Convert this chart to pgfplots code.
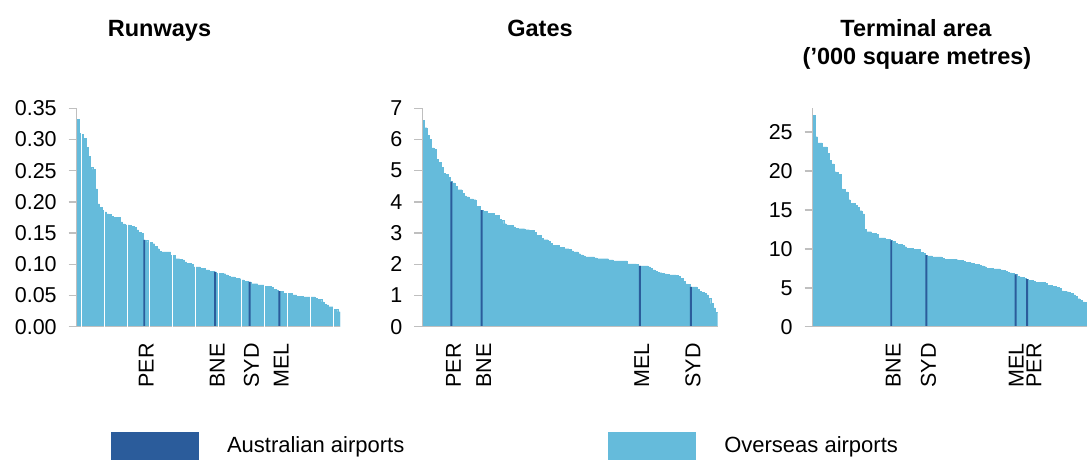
\documentclass[border=0pt]{standalone}
\usepackage{pgfplots}
\pgfplotsset{compat=1.18}
\usepackage{pgfplotstable}
\usepackage{fontspec}
\setmainfont{Liberation Sans}
\definecolor{ausblue}{HTML}{2B5C9B}
\definecolor{osblue}{HTML}{65BBDB}
\definecolor{axisgray}{HTML}{BFBFBF}
\newcommand{\tickfont}{\fontsize{21.5}{25}\selectfont}
\newcommand{\titlefont}{\fontsize{23.5}{28}\selectfont\bfseries}

\pgfplotstableread{
v
0.332
0.310
0.308
0.302
0.287
0.273
0.255
0.252
0.221
0.197
0.191
0.186
0.184
0.181
0.180
0.177
0.175
0.175
0.175
0.168
0.165
0.163
0.163
0.162
0.161
0.159
0.155
0.151
0.150
0.139
0.138
0.135
0.135
0.133
0.129
0.125
0.121
0.120
0.120
0.120
0.120
0.114
0.114
0.109
0.109
0.108
0.107
0.104
0.102
0.102
0.100
0.096
0.096
0.096
0.094
0.094
0.091
0.091
0.089
0.089
0.088
0.086
0.086
0.086
0.085
0.083
0.081
0.080
0.080
0.078
0.078
0.077
0.075
0.073
0.073
0.072
0.069
0.069
0.069
0.067
0.067
0.067
0.065
0.065
0.065
0.063
0.060
0.059
0.057
0.057
0.054
0.054
0.053
0.053
0.051
0.051
0.049
0.049
0.049
0.048
0.048
0.048
0.048
0.048
0.046
0.044
0.044
0.040
0.036
0.035
0.032
0.032
0.028
0.028
0.024
}\runways

\pgfplotstableread{
v
6.61
6.38
6.13
6.00
5.73
5.68
5.36
5.27
5.10
4.91
4.88
4.79
4.65
4.61
4.50
4.39
4.39
4.27
4.19
4.16
4.10
4.10
4.07
3.85
3.85
3.74
3.69
3.69
3.64
3.64
3.64
3.56
3.56
3.45
3.41
3.30
3.26
3.24
3.24
3.20
3.16
3.14
3.14
3.14
3.11
3.11
3.08
3.08
3.03
2.92
2.92
2.84
2.79
2.79
2.74
2.68
2.60
2.60
2.60
2.54
2.54
2.50
2.50
2.47
2.43
2.40
2.40
2.34
2.30
2.27
2.24
2.24
2.24
2.24
2.21
2.18
2.18
2.18
2.18
2.18
2.14
2.14
2.11
2.11
2.11
2.11
2.11
2.11
2.01
2.01
2.01
2.01
1.99
1.95
1.95
1.95
1.95
1.92
1.87
1.82
1.77
1.74
1.73
1.71
1.69
1.68
1.66
1.66
1.66
1.64
1.61
1.55
1.45
1.37
1.36
1.28
1.28
1.28
1.20
1.14
1.10
1.06
1.02
0.90
0.74
0.60
0.47
}\gates

\pgfplotstableread{
v
27.1
24.4
23.6
23.6
23.1
23.1
22.3
21.4
20.9
19.9
19.8
19.6
17.7
17.6
17.3
16.3
15.8
15.8
15.6
15.3
14.9
14.5
12.5
12.2
12.2
12.0
12.0
11.9
11.4
11.4
11.4
11.2
11.2
11.1
10.96
10.70
10.57
10.57
10.45
10.27
10.10
10.10
10.10
9.97
9.97
9.97
9.59
9.38
9.20
9.08
9.08
8.95
8.95
8.95
8.95
8.82
8.69
8.69
8.69
8.69
8.69
8.60
8.56
8.56
8.40
8.26
8.26
8.20
8.13
8.00
8.00
7.88
7.80
7.71
7.53
7.53
7.53
7.41
7.41
7.41
7.30
7.20
7.11
6.98
6.90
6.85
6.72
6.51
6.40
6.30
6.25
6.12
5.95
5.95
5.82
5.74
5.74
5.74
5.74
5.55
5.35
5.35
5.22
5.15
5.09
4.90
4.60
4.58
4.50
4.45
4.30
4.10
3.90
3.60
3.40
3.20
3.17
}\terminal

\pgfplotsset{
  panel/.style={
    scale only axis, anchor=south west,
    axis lines*=left,
    axis line style={draw=axisgray, line width=1.5pt},
    tick align=outside,
    major tick length=8pt,
    xtick style={draw=none},
    ytick style={draw=axisgray, line width=1.5pt},
    tick label style={font=\tickfont},
    xticklabel style={xshift=2pt, yshift=-5pt, rotate=90, anchor=east},
    yticklabel style={xshift=-8.5pt},
    /pgf/number format/assume math mode=true,
    ymin=0, xmin=-0.5,
    height=218.4pt,
    axis on top,
  },
  osbar/.style={ybar, bar width=1, bar shift=0pt, fill=osblue, draw=osblue, line width=0.3pt, forget plot},
  ausbar/.style={ybar, bar width=0.85, bar shift=0pt, fill=ausblue, draw=none, forget plot},
}

\begin{document}
\begin{tikzpicture}
\path[use as bounding box] (0pt,0pt) rectangle (1087pt,-459pt);

\node[font=\titlefont, anchor=base] at (159.5pt,-36.7pt) {Runways};
\node[font=\titlefont, anchor=base] at (540pt,-36.7pt) {Gates};
\node[font=\titlefont, anchor=base] at (916pt,-36.7pt) {Terminal area};
\node[font=\titlefont, anchor=base] at (917pt,-64.5pt) {(’000 square metres)};

% Runways
\begin{axis}[panel, at={(76.7pt,-326.7pt)}, width=263.3pt,
  xmax=114.5, ymax=0.35,
  ytick={0,0.05,0.1,0.15,0.2,0.25,0.3,0.35},
  yticklabel style={/pgf/number format/.cd, fixed, fixed zerofill, precision=2},
  xtick={29,60,75,88}, xticklabels={PER,BNE,SYD,MEL},
  extra x ticks={1.5,11.5,21.5,31.5,41.5,51.5,61.5,71.5,81.5,91.5,101.5,111.5},
  extra x tick labels={},
  extra x tick style={grid=major, major grid style={draw=white, line width=1pt}},
  legend image code/.code={\fill[#1, draw=none] (0pt,-14pt) rectangle (88pt,14pt);},
  legend style={draw=none, fill=none, inner sep=0pt, outer sep=0pt,
    at={(0.1303,-0.544)}, anchor=west, legend columns=2,
    font=\fontsize{22}{26}\selectfont,
    nodes={inner sep=0pt},
    /tikz/every odd column/.append style={column sep=28pt},
    /tikz/every even column/.append style={column sep=204pt}},
]
\addplot[osbar] table[x expr=\coordindex, y=v] {\runways};
\addplot[ausbar] coordinates {(29,0.139) (60,0.088) (75,0.072) (88,0.057)};
\addlegendimage{fill=ausblue, draw=none}
\addlegendentry{Australian airports}
\addlegendimage{fill=osblue, draw=none}
\addlegendentry{Overseas airports}
\end{axis}

% Gates
\begin{axis}[panel, at={(422.3pt,-326.7pt)}, width=295.4pt,
  xmax=126.5, ymax=7,
  ytick={0,1,2,3,4,5,6,7},
  xtick={12,25,93,115}, xticklabels={PER,BNE,MEL,SYD},
]
\addplot[osbar] table[x expr=\coordindex, y=v] {\gates};
\addplot[ausbar] coordinates {(12,4.65) (25,3.74) (93,1.95) (115,1.28)};
\end{axis}

% Terminal area
\begin{axis}[panel, at={(812.7pt,-326.7pt)}, width=274.3pt,
  xmax=116.5, ymax=28.04,
  ytick={0,5,10,15,20,25},
  xtick={33,48,85.5,93}, xticklabels={BNE,SYD,MEL,PER},
]
\addplot[osbar] table[x expr=\coordindex, y=v] {\terminal};
\addplot[ausbar] coordinates {(33,11.1) (48,9.20) (86,6.72) (91,6.12)};
\end{axis}
\end{tikzpicture}
\end{document}
